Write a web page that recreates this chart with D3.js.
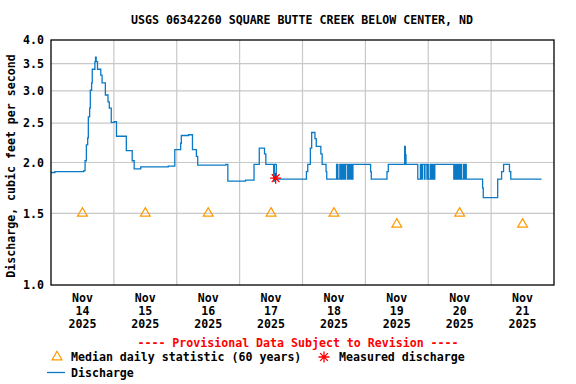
<!DOCTYPE html>
<html>
<head>
<meta charset="utf-8">
<script src="https://cdn.jsdelivr.net/npm/d3@7"></script>
<style>
  body { margin: 0; background: #fff; }
  text { font-family: "DejaVu Sans Mono", monospace; font-weight: bold; font-size: 11.6px; }
</style>
</head>
<body>
<svg id="chart" width="576" height="384"></svg>
<script>
// hours after 2025-11-14 00:00 (step changes of 15-minute discharge)
const flowHours = [0, 1.5, 12.5, 13, 13.5, 14, 14.25, 14.75, 15, 15.5, 15.75, 16.75, 17, 17.25, 17.75,
  19, 19.5, 20.75, 21.75, 22.25, 23, 24.25, 25, 28.75, 31, 31.75, 34.25, 44.75, 47.25, 49.5, 49.75,
  52.5, 54, 55.5, 56, 66.75, 67.5, 74.25, 77.5, 79.5, 81.5, 82, 85, 85.25, 86, 97.5, 98, 99, 99.5,
  100.75, 101.25, 103, 103.5, 105, 105.25,
  109, 109.5, 110.25, 110.75, 111, 111.5, 111.75, 112.25, 112.5, 113.25, 113.5, 113.75, 114, 114.25,
  114.5, 115, 115.25, 122, 122.25, 128.25, 128.75, 135, 135.25, 135.5,
  140, 141, 141.5, 141.75, 142.5, 142.75, 143.5, 143.75, 144, 144.25, 144.75, 145, 145.25, 145.5,
  145.75, 146, 146.5,
  153.75, 154.25, 154.5, 155, 155.25, 155.75, 156, 156.5, 156.75, 157.5, 157.75, 158.25, 158.5,
  164.75, 165, 170.5, 172, 172.75, 175, 175.5, 187.25];
const flowValues = [1.89, 1.90, 1.91, 2.02, 2.21, 2.30, 2.59, 2.72, 3.01, 3.14, 3.39, 3.54, 3.63, 3.54, 3.39,
  3.28, 3.14, 2.93, 2.82, 2.72, 2.51, 2.52, 2.32, 2.14, 2.02, 1.93, 1.95, 1.96, 2.15, 2.23, 2.33,
  2.34, 2.15, 2.07, 1.97, 1.98, 1.80, 1.81, 1.98, 2.17, 2.10, 1.98, 1.80, 1.98, 1.82, 1.90, 1.98, 2.17, 2.37,
  2.29, 2.19, 2.10, 1.98, 1.90, 1.82,
  1.98, 1.82, 1.98, 1.82, 1.98, 1.82, 1.98, 1.82, 1.98, 1.82, 1.98, 1.82, 1.98, 1.82,
  1.98, 1.82, 1.98, 1.90, 1.82, 1.90, 1.98, 2.19, 2.09, 1.98,
  1.82, 1.98, 1.82, 1.98, 1.82, 1.98, 1.82, 1.98, 1.82, 1.82, 1.98, 1.82, 1.98, 1.82,
  1.98, 1.82, 1.98,
  1.82, 1.98, 1.82, 1.98, 1.82, 1.98, 1.82, 1.98, 1.82, 1.98, 1.82, 1.98, 1.82,
  1.73, 1.64, 1.82, 1.90, 1.98, 1.90, 1.82, 1.82];

const medianDays = ["2025-11-14", "2025-11-15", "2025-11-16", "2025-11-17", "2025-11-18", "2025-11-19", "2025-11-20", "2025-11-21"];
const medianValues = [1.50, 1.50, 1.50, 1.50, 1.50, 1.41, 1.50, 1.41];

const measuredTime = ["2025-11-17T13:45"];
const measuredValue = [1.83];

const yTicks = [1.0, 1.5, 2.0, 2.5, 3.0, 3.5, 4.0];
const dayLabels = ["14", "15", "16", "17", "18", "19", "20", "21"];

const svg = d3.select("#chart");
const mLeft = 51, mRight = 554, mTop = 40, mBottom = 285;
const start = new Date(2025, 10, 14);
const end = new Date(2025, 10, 22);
const parse = d3.timeParse("%Y-%m-%d");
const parseT = d3.timeParse("%Y-%m-%dT%H:%M");

const x = d3.scaleTime().domain([start, end]).range([mLeft, mRight]);
const y = d3.scaleLog().domain([1, 4]).range([mBottom, mTop]);

// gridlines
const gridDays = d3.timeDay.range(d3.timeDay.offset(start, 1), end);
svg.append("g").selectAll("line").data(gridDays).join("line")
  .attr("x1", d => x(d)).attr("x2", d => x(d))
  .attr("y1", mTop).attr("y2", mBottom)
  .attr("stroke", "#c8c8c8").attr("stroke-width", 1.2);
svg.append("g").selectAll("line").data(yTicks.filter(v => v > 1 && v < 4)).join("line")
  .attr("x1", mLeft).attr("x2", mRight)
  .attr("y1", d => y(d)).attr("y2", d => y(d))
  .attr("stroke", "#c8c8c8").attr("stroke-width", 1.2);

// y axis labels
const yAxis = d3.axisLeft(y).tickValues(yTicks).tickFormat(d3.format(".1f")).tickSize(0).tickPadding(7);
svg.append("g").attr("transform", `translate(${mLeft},0)`).call(yAxis)
  .call(g => g.select(".domain").remove())
  .selectAll("text").attr("fill", "#000")
  .style("font-family", "DejaVu Sans Mono").style("font-weight", "bold").style("font-size", "11.6px");

// x axis labels (three lines at noon)
const noon = medianDays.map(d => d3.timeHour.offset(parse(d), 12));
const xl = svg.append("g").selectAll("text").data(noon).join("text")
  .attr("text-anchor", "middle").attr("fill", "#000");
xl.append("tspan").attr("x", d => x(d)).attr("y", 302).text("Nov");
xl.append("tspan").attr("x", d => x(d)).attr("y", 315).text((d, i) => dayLabels[i]);
xl.append("tspan").attr("x", d => x(d)).attr("y", 328).text("2025");

// discharge step line
const flow = flowHours.map((h, i) => ({ t: d3.timeMinute.offset(start, Math.round(h * 60)), v: flowValues[i] }));
svg.append("path").datum(flow)
  .attr("fill", "none").attr("stroke", "#0a7ac6").attr("stroke-width", 1.3)
  .attr("d", d3.line().x(d => x(d.t)).y(d => y(d.v)).curve(d3.curveStepAfter));

// median triangles
const tri = d3.symbol().type(d3.symbolTriangle).size(42);
svg.append("g").selectAll("path").data(medianValues).join("path")
  .attr("d", tri)
  .attr("transform", (d, i) => `translate(${x(noon[i])},${y(d)})`)
  .attr("fill", "none").attr("stroke", "#ff9900").attr("stroke-width", 1.2);

// measured discharge, eight-armed star
const star8 = {
  draw(ctx, size) {
    const r = Math.sqrt(size) / 2, d = r * Math.SQRT1_2;
    ctx.moveTo(-r, 0); ctx.lineTo(r, 0);
    ctx.moveTo(0, -r); ctx.lineTo(0, r);
    ctx.moveTo(-d, -d); ctx.lineTo(d, d);
    ctx.moveTo(-d, d); ctx.lineTo(d, -d);
  }
};
const star = d3.symbol().type(star8).size(121);
svg.append("g").selectAll("path").data(measuredValue).join("path")
  .attr("d", star)
  .attr("transform", (d, i) => `translate(${x(parseT(measuredTime[i]))},${y(d)})`)
  .attr("fill", "none").attr("stroke", "#ff0000").attr("stroke-width", 1.3);

// frame
svg.append("rect").attr("x", mLeft).attr("y", mTop).attr("width", mRight - mLeft).attr("height", mBottom - mTop)
  .attr("fill", "none").attr("stroke", "#000").attr("stroke-width", 1.3);

// title and axis label
svg.append("text").attr("x", 302).attr("y", 24).attr("text-anchor", "middle")
  .text("USGS 06342260 SQUARE BUTTE CREEK BELOW CENTER, ND");
svg.append("text").attr("transform", "translate(15,166) rotate(-90)").attr("text-anchor", "middle")
  .text("Discharge, cubic feet per second");

svg.append("text").attr("x", 298).attr("y", 347).attr("text-anchor", "middle").attr("fill", "#ff0000")
  .text("---- Provisional Data Subject to Revision ----");

// legend
svg.append("path").attr("d", tri).attr("transform", "translate(57,357)")
  .attr("fill", "none").attr("stroke", "#ff9900").attr("stroke-width", 1.2);
svg.append("text").attr("x", 71).attr("y", 361).text("Median daily statistic (60 years)");
svg.append("path").attr("d", star).attr("transform", "translate(324,357)")
  .attr("fill", "none").attr("stroke", "#ff0000").attr("stroke-width", 1.3);
svg.append("text").attr("x", 339).attr("y", 361).text("Measured discharge");
svg.append("line").attr("x1", 47).attr("x2", 65).attr("y1", 372.5).attr("y2", 372.5)
  .attr("stroke", "#0a7ac6").attr("stroke-width", 1.3);
svg.append("text").attr("x", 71).attr("y", 377).text("Discharge");
</script>
</body>
</html>
